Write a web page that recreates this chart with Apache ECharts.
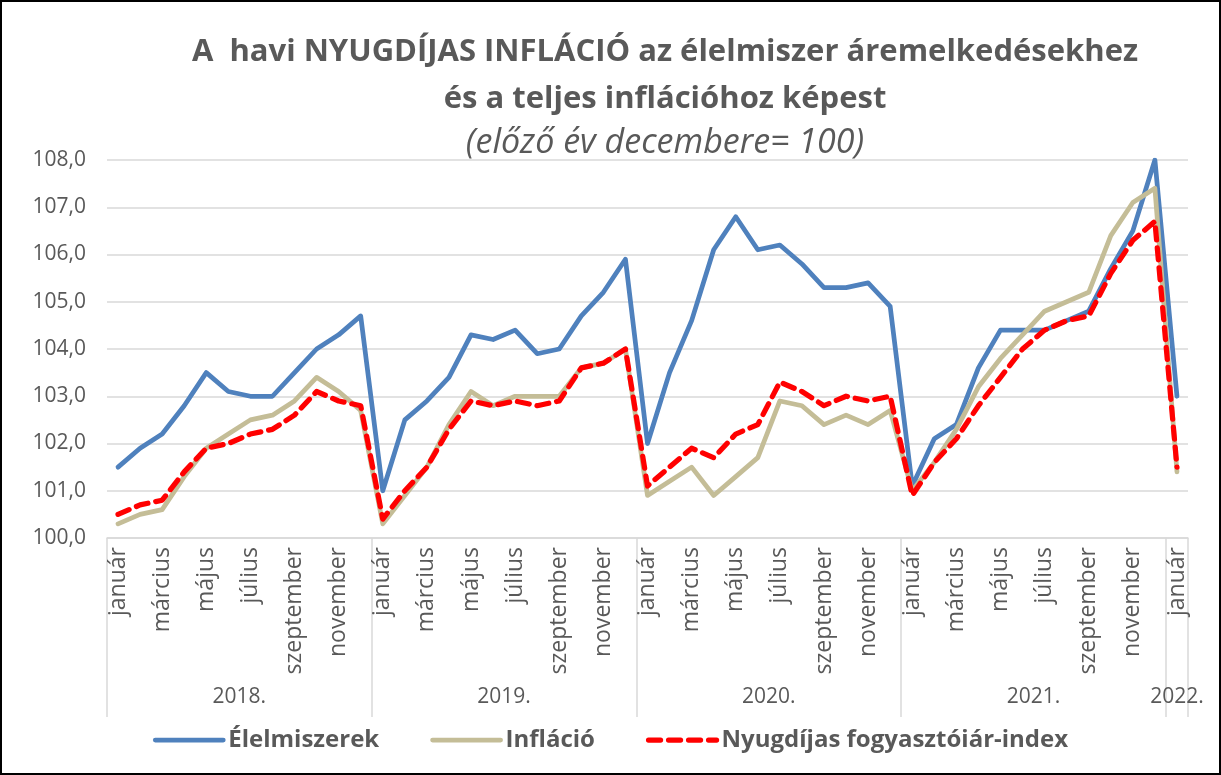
<!DOCTYPE html>
<html>
<head>
<meta charset="utf-8">
<script src="https://cdn.jsdelivr.net/npm/echarts@6/dist/echarts.min.js"></script>
<style>
html,body{margin:0;padding:0;background:#fff;}
#c{width:1221px;height:775px;box-sizing:border-box;border:2px solid #000;}
</style>
</head>
<body>
<div id="c"></div>
<script>
const monthNames = ['január','február','március','április','május','június','július','augusztus','szeptember','október','november','december'];
const categories = [].concat(monthNames, monthNames, monthNames, monthNames, ['január']);
const yearLabels = ['2018.','2019.','2020.','2021.','2022.'];
const yearCenters = [5.5, 17.5, 29.5, 41.5, 48];
const yearBounds = [-0.5, 11.5, 23.5, 35.5, 47.5, 48.5];

const elelmiszerek = [
  101.5, 101.9, 102.2, 102.8, 103.5, 103.1, 103.0, 103.0, 103.5, 104.0, 104.3, 104.7,
  101.0, 102.5, 102.9, 103.4, 104.3, 104.2, 104.4, 103.9, 104.0, 104.7, 105.2, 105.9,
  102.0, 103.5, 104.6, 106.1, 106.8, 106.1, 106.2, 105.8, 105.3, 105.3, 105.4, 104.9,
  101.1, 102.1, 102.4, 103.6, 104.4, 104.4, 104.4, 104.6, 104.8, 105.7, 106.5, 108.0,
  103.0
];
const inflacio = [
  100.3, 100.5, 100.6, 101.3, 101.9, 102.2, 102.5, 102.6, 102.9, 103.4, 103.1, 102.7,
  100.3, 100.9, 101.5, 102.4, 103.1, 102.8, 103.0, 103.0, 103.0, 103.6, 103.7, 104.0,
  100.9, 101.2, 101.5, 100.9, 101.3, 101.7, 102.9, 102.8, 102.4, 102.6, 102.4, 102.7,
  101.0, 101.6, 102.3, 103.2, 103.8, 104.3, 104.8, 105.0, 105.2, 106.4, 107.1, 107.4,
  101.4
];
const nyugdijas = [
  100.5, 100.7, 100.8, 101.4, 101.9, 102.0, 102.2, 102.3, 102.6, 103.1, 102.9, 102.8,
  100.4, 101.0, 101.5, 102.3, 102.9, 102.8, 102.9, 102.8, 102.9, 103.6, 103.7, 104.0,
  101.1, 101.5, 101.9, 101.7, 102.2, 102.4, 103.3, 103.1, 102.8, 103.0, 102.9, 103.0,
  100.9, 101.6, 102.1, 102.8, 103.4, 104.0, 104.4, 104.6, 104.7, 105.6, 106.3, 106.7,
  101.5
];

const FONT = '"Open Sans"';
const TXT = '#595959';
const GRIDC = '#d9d9d9';

const chart = echarts.init(document.getElementById('c'), null, {renderer: 'canvas'});
chart.setOption({
  animation: false,
  backgroundColor: '#fff',
  title: {
    text: 'A  havi NYUGDÍJAS INFLÁCIÓ az élelmiszer áremelkedésekhez\nés a teljes inflációhoz képest',
    subtext: '(előző év decembere= 100)',
    left: 658,
    top: 22,
    textAlign: 'center',
    itemGap: 0,
    textStyle: {fontFamily: FONT, fontSize: 31, fontWeight: 'bold', color: TXT, lineHeight: 47},
    subtextStyle: {fontFamily: FONT, fontSize: 34, fontStyle: 'italic', color: TXT, lineHeight: 40}
  },
  legend: {
    bottom: 16,
    left: 'center',
    itemWidth: 68,
    itemHeight: 6,
    itemGap: 51,
    lineStyle: {width: 'inherit', type: 'inherit'},
    itemStyle: {opacity: 0},
    textStyle: {fontFamily: FONT, fontSize: 24, fontWeight: 'bold', color: TXT},
    data: ['Élelmiszerek', 'Infláció', 'Nyugdíjas fogyasztóiár-index']
  },
  grid: {left: 105, right: 31, top: 158, bottom: 235, containLabel: false},
  xAxis: [
    {
      type: 'category',
      data: categories,
      boundaryGap: true,
      position: 'bottom',
      axisLine: {show: true, lineStyle: {color: GRIDC, width: 1.5}},
      axisTick: {show: false},
      axisLabel: {
        interval: 1, rotate: 90, margin: 9,
        fontFamily: FONT, fontSize: 23, color: TXT
      },
      splitLine: {show: false}
    },
    {
      type: 'value',
      min: -0.5,
      max: 48.5,
      position: 'bottom',
      axisLine: {show: false},
      splitLine: {show: false},
      axisTick: {show: true, customValues: yearBounds, length: 179, inside: false, lineStyle: {color: GRIDC, width: 1.5}},
      axisLabel: {
        show: true,
        customValues: yearCenters,
        margin: 149,
        fontFamily: FONT, fontSize: 21, color: TXT,
        formatter: function (v) { const i = yearCenters.indexOf(v); return i >= 0 ? yearLabels[i] : ''; }
      }
    }
  ],
  yAxis: {
    type: 'value',
    min: 100,
    max: 108,
    interval: 1,
    axisLine: {show: false},
    axisTick: {show: false},
    axisLabel: {
      margin: 21, fontFamily: FONT, fontSize: 21, color: TXT,
      formatter: function (v) { return v.toFixed(1).replace('.', ','); }
    },
    splitLine: {lineStyle: {color: GRIDC, width: 1.5}}
  },
  series: [
    {
      name: 'Élelmiszerek', type: 'line', xAxisIndex: 0, data: elelmiszerek,
      symbol: 'none', smooth: false,
      lineStyle: {color: '#4F81BD', width: 4.75, cap: 'round', join: 'round'},
      itemStyle: {color: '#4F81BD'}
    },
    {
      name: 'Infláció', type: 'line', xAxisIndex: 0, data: inflacio,
      symbol: 'none', smooth: false,
      lineStyle: {color: '#C4BD97', width: 4.75, cap: 'round', join: 'round'},
      itemStyle: {color: '#C4BD97'}
    },
    {
      name: 'Nyugdíjas fogyasztóiár-index', type: 'line', xAxisIndex: 0, data: nyugdijas,
      symbol: 'none', smooth: false,
      lineStyle: {color: '#FF0000', width: 5.25, type: [12, 8], cap: 'round', join: 'round'},
      itemStyle: {color: '#FF0000'}
    }
  ]
});
</script>
</body>
</html>
